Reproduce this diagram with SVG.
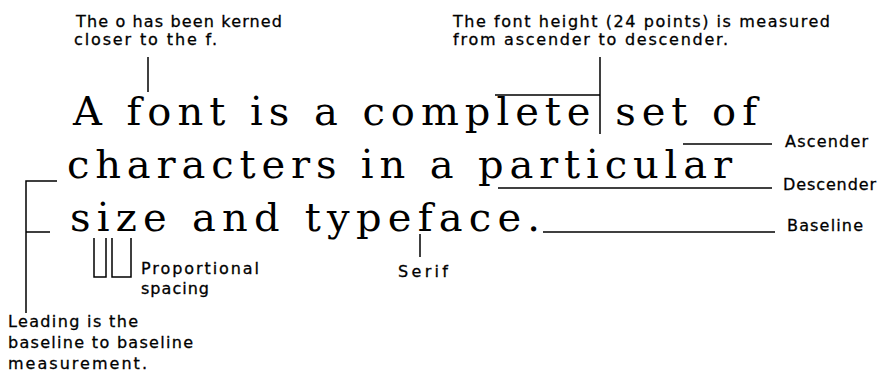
<svg xmlns="http://www.w3.org/2000/svg" width="881" height="374" viewBox="0 0 881 374">
<style>
.big{font-family:"DejaVu Serif","Liberation Serif",serif;font-size:40px;fill:#000}
.lbl{font-family:"DejaVu Sans","Liberation Sans",sans-serif;font-size:16px;fill:#000;stroke:#000;stroke-width:0.3}
.ln{stroke:#000;stroke-width:1.5;fill:none}
</style>
<rect width="881" height="374" fill="#fff"/>
<g id="sample-text">
<text class="big" x="73" y="125" textLength="684" lengthAdjust="spacing">A font is a complete set of</text>
<text class="big" x="67" y="178" textLength="665" lengthAdjust="spacing">characters in a particular</text>
<text class="big" x="70" y="231" textLength="470" lengthAdjust="spacing">size and typeface.</text>
</g>
<g id="kerning">
<text class="lbl" x="76" y="27" textLength="206" lengthAdjust="spacing">The o has been kerned</text>
<text class="lbl" x="74" y="45" textLength="143" lengthAdjust="spacing">closer to the f.</text>
</g>
<g id="font-height">
<text class="lbl" x="453" y="27" textLength="377" lengthAdjust="spacing">The font height (24 points) is measured</text>
<text class="lbl" x="453" y="45" textLength="275" lengthAdjust="spacing">from ascender to descender.</text>
</g>
<g id="ascender"><text class="lbl" x="785" y="147" textLength="83" lengthAdjust="spacing">Ascender</text></g>
<g id="descender"><text class="lbl" x="783" y="190" textLength="93" lengthAdjust="spacing">Descender</text></g>
<g id="baseline"><text class="lbl" x="787" y="231" textLength="76" lengthAdjust="spacing">Baseline</text></g>
<g id="proportional">
<text class="lbl" x="141" y="274" textLength="118" lengthAdjust="spacing">Proportional</text>
<text class="lbl" x="141" y="294" textLength="68" lengthAdjust="spacing">spacing</text>
</g>
<g id="serif"><text class="lbl" x="398" y="277" textLength="50" lengthAdjust="spacing">Serif</text></g>
<g id="leading">
<text class="lbl" x="8" y="327" textLength="130" lengthAdjust="spacing">Leading is the</text>
<text class="lbl" x="8" y="348" textLength="185" lengthAdjust="spacing">baseline to baseline</text>
<text class="lbl" x="8" y="369" textLength="139" lengthAdjust="spacing">measurement.</text>
</g>
<g id="connectors">
<path class="ln" d="M148,57 V92"/>
<path class="ln" d="M600,57 V134 M495,95 H600"/>
<path class="ln" d="M683,144 H772"/>
<path class="ln" d="M498,188 H772"/>
<path class="ln" d="M543,232 H775"/>
<path class="ln" d="M57,181 H26 V313 M26,232 H50"/>
<path class="ln" d="M94,238 V277 H106 V238 M112,238 V277 H131 V238"/>
<path class="ln" d="M420,234 V257"/>
</g>
</svg>
